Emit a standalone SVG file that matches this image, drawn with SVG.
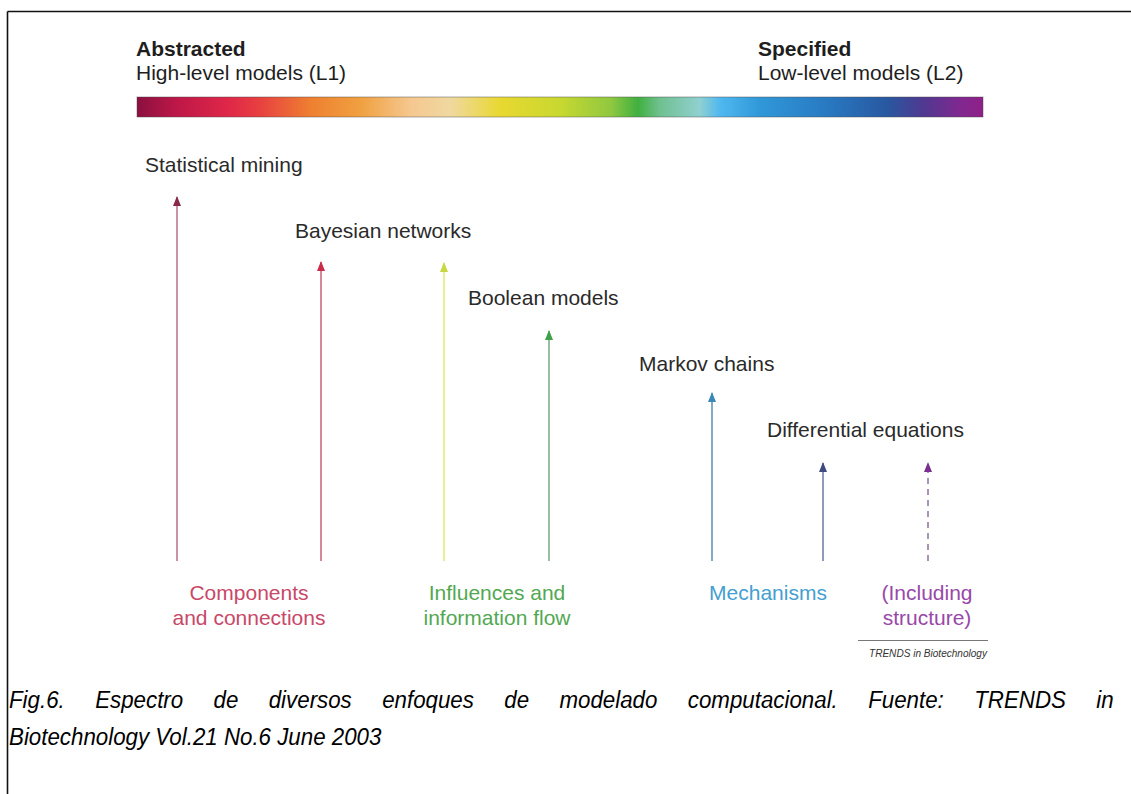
<svg xmlns="http://www.w3.org/2000/svg" width="1131" height="794" viewBox="0 0 1131 794">
<style>
text{font-family:"Liberation Sans",Arial,sans-serif;}
.hd{font-size:21px;fill:#1e1e1e;}
.hb{font-weight:bold;}
.lbl{font-size:21px;fill:#2a2a2a;}
.cat{font-size:21px;text-anchor:middle;}
.cap{font-size:24px;font-style:italic;fill:#000;}
.ln{stroke-width:1.5;fill:none;}
</style>
<defs>
<linearGradient id="spec" x1="0" x2="1" y1="0" y2="0">
<stop offset="0" stop-color="#8a1040"/>
<stop offset="0.05" stop-color="#c01848"/>
<stop offset="0.11" stop-color="#e02848"/>
<stop offset="0.145" stop-color="#e84040"/>
<stop offset="0.206" stop-color="#ee8030"/>
<stop offset="0.264" stop-color="#f0a040"/>
<stop offset="0.324" stop-color="#f5c890"/>
<stop offset="0.37" stop-color="#f0d8a0"/>
<stop offset="0.43" stop-color="#e8d830"/>
<stop offset="0.5" stop-color="#c8d830"/>
<stop offset="0.56" stop-color="#90c840"/>
<stop offset="0.592" stop-color="#40b040"/>
<stop offset="0.618" stop-color="#70c090"/>
<stop offset="0.665" stop-color="#90d0d0"/>
<stop offset="0.689" stop-color="#50b8f0"/>
<stop offset="0.736" stop-color="#3098d8"/>
<stop offset="0.819" stop-color="#2878c0"/>
<stop offset="0.887" stop-color="#2858a0"/>
<stop offset="0.93" stop-color="#503890"/>
<stop offset="0.973" stop-color="#802890"/>
<stop offset="1" stop-color="#902088"/>
</linearGradient>
<marker id="h1" viewBox="0 0 8 10" refX="4" refY="1" markerWidth="8" markerHeight="10" markerUnits="userSpaceOnUse" orient="0"><path d="M4 0 L8 10 L0 10 Z" fill="#8a2848"/></marker>
<marker id="h2" viewBox="0 0 8 10" refX="4" refY="1" markerWidth="8" markerHeight="10" markerUnits="userSpaceOnUse" orient="0"><path d="M4 0 L8 10 L0 10 Z" fill="#c82c48"/></marker>
<marker id="h3" viewBox="0 0 8 10" refX="4" refY="1" markerWidth="8" markerHeight="10" markerUnits="userSpaceOnUse" orient="0"><path d="M4 0 L8 10 L0 10 Z" fill="#c8d840"/></marker>
<marker id="h4" viewBox="0 0 8 10" refX="4" refY="1" markerWidth="8" markerHeight="10" markerUnits="userSpaceOnUse" orient="0"><path d="M4 0 L8 10 L0 10 Z" fill="#40a048"/></marker>
<marker id="h5" viewBox="0 0 8 10" refX="4" refY="1" markerWidth="8" markerHeight="10" markerUnits="userSpaceOnUse" orient="0"><path d="M4 0 L8 10 L0 10 Z" fill="#3a88b8"/></marker>
<marker id="h6" viewBox="0 0 8 10" refX="4" refY="1" markerWidth="8" markerHeight="10" markerUnits="userSpaceOnUse" orient="0"><path d="M4 0 L8 10 L0 10 Z" fill="#404a80"/></marker>
<marker id="h7" viewBox="0 0 8 10" refX="4" refY="1" markerWidth="8" markerHeight="10" markerUnits="userSpaceOnUse" orient="0"><path d="M4 0 L8 10 L0 10 Z" fill="#7a3090"/></marker>
</defs>
<rect x="0" y="0" width="1131" height="794" fill="#ffffff"/>
<g id="frame" stroke="#111" stroke-width="1.6" fill="none">
<line x1="7.5" y1="11.5" x2="1131" y2="11.5"/>
<line x1="7.5" y1="11.5" x2="7.5" y2="794"/>
</g>
<g id="header-left">
<text class="hd hb" x="136" y="56">Abstracted</text>
<text class="hd" x="136" y="80">High-level models (L1)</text>
</g>
<g id="header-right">
<text class="hd hb" x="758" y="56">Specified</text>
<text class="hd" x="758" y="80">Low-level models (L2)</text>
</g>
<g id="spectrum-bar">
<rect x="137" y="97" width="846" height="20" fill="url(#spec)" stroke="#4a4a4a" stroke-opacity="0.45" stroke-width="1"/>
</g>
<g id="connectors">
<line class="ln" x1="177" y1="561" x2="177" y2="197" stroke="#b87088" marker-end="url(#h1)"/>
<line class="ln" x1="321" y1="561" x2="321" y2="262" stroke="#c86078" marker-end="url(#h2)"/>
<line class="ln" x1="444" y1="561" x2="444" y2="263" stroke="#e0e870" marker-end="url(#h3)"/>
<line class="ln" x1="549" y1="561" x2="549" y2="331" stroke="#78a880" marker-end="url(#h4)"/>
<line class="ln" x1="712" y1="561" x2="712" y2="393" stroke="#5890b0" marker-end="url(#h5)"/>
<line class="ln" x1="823" y1="561" x2="823" y2="463" stroke="#6878a0" marker-end="url(#h6)"/>
<line class="ln" x1="928" y1="561" x2="928" y2="463" stroke="#9070a0" stroke-dasharray="6 5" marker-end="url(#h7)"/>
</g>
<g id="node-statistical-mining"><text class="lbl" x="145" y="172">Statistical mining</text></g>
<g id="node-bayesian-networks"><text class="lbl" x="295" y="238">Bayesian networks</text></g>
<g id="node-boolean-models"><text class="lbl" x="468" y="305">Boolean models</text></g>
<g id="node-markov-chains"><text class="lbl" x="639" y="371">Markov chains</text></g>
<g id="node-differential-equations"><text class="lbl" x="767" y="437">Differential equations</text></g>
<g id="cat-components" fill="#c84868">
<text class="cat" x="249" y="600">Components</text>
<text class="cat" x="249" y="625">and connections</text>
</g>
<g id="cat-influences" fill="#52a852">
<text class="cat" x="497" y="600">Influences and</text>
<text class="cat" x="497" y="625">information flow</text>
</g>
<g id="cat-mechanisms" fill="#44a0d0">
<text class="cat" x="768" y="600">Mechanisms</text>
</g>
<g id="cat-structure" fill="#9848a8">
<text class="cat" x="927" y="600">(Including</text>
<text class="cat" x="927" y="625">structure)</text>
</g>
<g id="source">
<line x1="858" y1="640.5" x2="988" y2="640.5" stroke="#777" stroke-width="1"/>
<text x="869" y="657" font-size="10.5" font-style="italic" fill="#333" textLength="118" lengthAdjust="spacingAndGlyphs">TRENDS in Biotechnology</text>
</g>
<g id="caption" transform="translate(9,0) scale(0.93,1)">
<text class="cap" x="0" y="708" word-spacing="26">Fig.6. Espectro de diversos enfoques de modelado computacional. Fuente: TRENDS in</text>
<text class="cap" x="0" y="745">Biotechnology Vol.21 No.6 June 2003</text>
</g>
</svg>
